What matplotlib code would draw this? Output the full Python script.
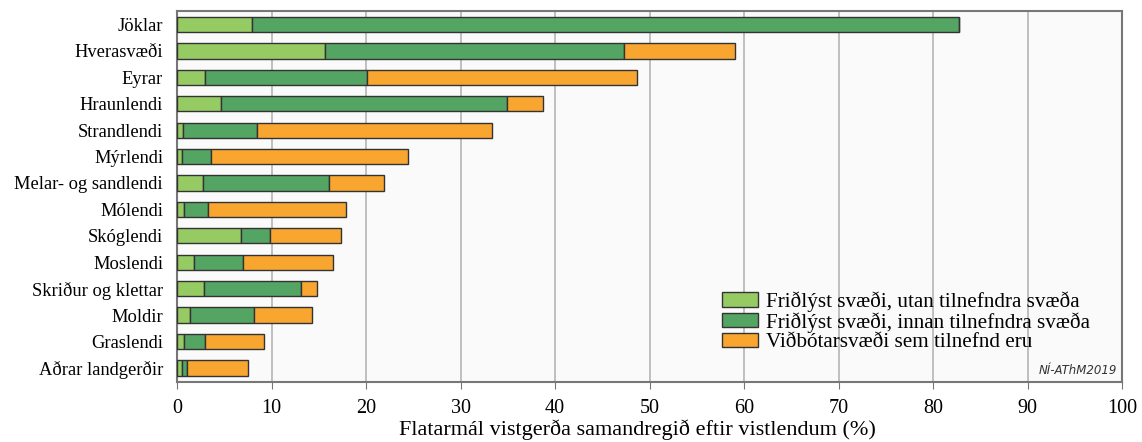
import numpy as np
import matplotlib
matplotlib.use("Agg")
import matplotlib.pyplot as plt

plt.rcParams['font.family'] = ['Liberation Serif', 'DejaVu Serif']

# vistlendi, top to bottom
categories = ["Jöklar", "Hverasvæði", "Eyrar", "Hraunlendi", "Strandlendi",
              "Mýrlendi", "Melar- og sandlendi", "Mólendi", "Skóglendi",
              "Moslendi", "Skriður og klettar", "Moldir", "Graslendi",
              "Aðrar landgerðir"]

# cumulative end points (%)
utan = [7.9, 15.7, 3.0, 4.7, 0.6, 0.5, 2.8, 0.7, 6.8, 1.8, 2.9, 1.4, 0.7, 0.5]
innan_end = [82.7, 47.3, 20.1, 34.9, 8.5, 3.6, 16.1, 3.3, 9.8, 7.0, 13.1, 8.1, 3.0, 1.1]
total_end = [82.7, 59.0, 48.7, 38.7, 33.3, 24.4, 21.9, 17.9, 17.4, 16.5, 14.8, 14.3, 9.2, 7.5]

series_names = ["Friðlýst svæði, utan tilnefndra svæða",
                "Friðlýst svæði, innan tilnefndra svæða",
                "Viðbótarsvæði sem tilnefnd eru"]
colors = ["#96cb64", "#54a464", "#f9a631"]

utan = np.array(utan)
innan = np.array(innan_end) - utan
vidbot = np.array(total_end) - np.array(innan_end)

fig = plt.figure(figsize=(11.42, 4.42), dpi=100)
ax = fig.add_axes([0.155, 0.136, 0.8275, 0.839])
ax.set_facecolor("#fafafa")

y = np.arange(len(categories))
h = 0.58
left = np.zeros(len(categories))
for vals, name, col in zip([utan, innan, vidbot], series_names, colors):
    ax.barh(y, vals, left=left, height=h, color=col, edgecolor="#333333",
            linewidth=1.0, label=name, zorder=3)
    left = left + vals

ax.set_xlim(0, 100)
ax.set_ylim(len(categories) - 0.47, -0.51)
ax.set_yticks(y)
ax.set_yticklabels(categories, fontsize=13.3)
ax.set_xticks(np.arange(0, 101, 10))
ax.tick_params(axis='x', labelsize=14.5, length=5, pad=7, color="#777777")
ax.tick_params(axis='y', length=0, pad=10)
ax.xaxis.grid(True, color="#b5b5b5", linewidth=1.2, zorder=0)
ax.set_axisbelow(True)
for s in ax.spines.values():
    s.set_color("#777777")
    s.set_linewidth(1.5)

ax.set_xlabel("Flatarmál vistgerða samandregið eftir vistlendum (%)", fontsize=16)
ax.xaxis.set_label_coords(0.487, -0.1)

ax.legend(loc="lower right", bbox_to_anchor=(0.98, 0.046), frameon=False,
          fontsize=15.2, handlelength=1.7, handleheight=0.67,
          handletextpad=0.4, labelspacing=0.0, borderaxespad=0.2)

ax.text(0.995, 0.012, "NÍ-AThM2019", transform=ax.transAxes, ha="right",
        va="bottom", fontsize=8.5, style="italic", family="DejaVu Sans",
        color="#333333")

fig.savefig("out.png", dpi=100)
